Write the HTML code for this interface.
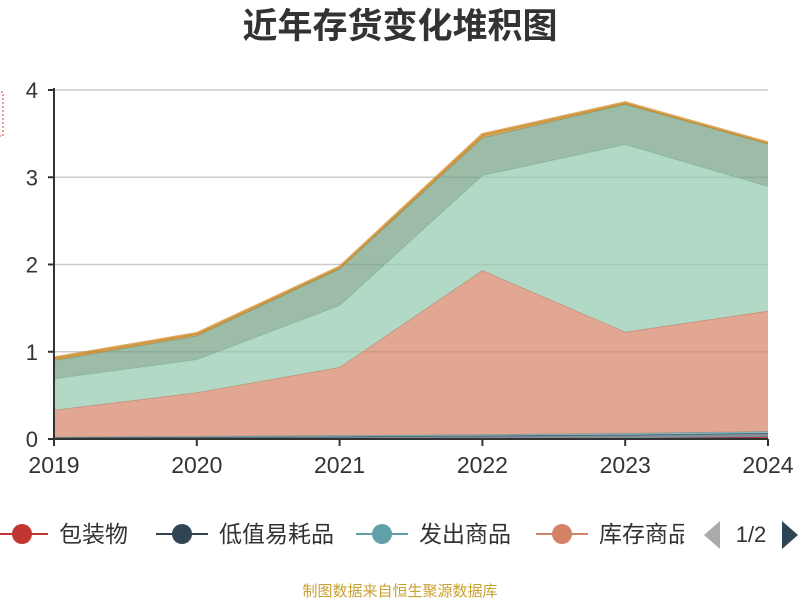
<!DOCTYPE html>
<html><head><meta charset="utf-8"><style>
body{margin:0;background:#fff;}
svg text{font-family:"Liberation Sans","Noto Sans CJK SC",sans-serif;}
</style></head><body>
<svg width="800" height="600" viewBox="0 0 800 600" id="chart">
<text x="400" y="38" text-anchor="middle" font-size="35" font-weight="bold" fill="#333">近年存货变化堆积图</text>
<rect x="-3" y="92" width="6" height="44" fill="none" stroke="#e33" stroke-dasharray="2,2"/>
<g id="grid"></g><g id="areas"></g><g id="axes"></g><g id="legend"></g>
<text x="400" y="596" text-anchor="middle" font-size="15" fill="#c9a232">制图数据来自恒生聚源数据库</text>
</svg>
<script>
const years=["2019","2020","2021","2022","2023","2024"];
const seriesNames=["包装物","低值易耗品","发出商品","库存商品","原材料","在产品","委托加工物资"];
const s0=[0,0,0,0,0.005,0.02];
const s1=[0.015,0.02,0.025,0.035,0.04,0.045];
const s2=[0.005,0.01,0.015,0.015,0.02,0.02];
const s3=[0.31,0.50,0.78,1.88,1.16,1.38];
const s4=[0.36,0.38,0.71,1.09,2.15,1.43];
const s5=[0.21,0.27,0.42,0.43,0.46,0.49];
const s6=[0.03,0.03,0.02,0.04,0.02,0.01];
const yTicks=[0,1,2,3,4];
const colors=["#c23531","#2f4554","#61a0a8","#d48265","#91c7ae","#749f83","#ca8622"];
const NS="http://www.w3.org/2000/svg";
const X=i=>54+i*(768-54)/(years.length-1);
const Y=v=>439-v*(439-90)/4;
function mk(t,a,p){const e=document.createElementNS(NS,t);for(const k in a)e.setAttribute(k,a[k]);p.appendChild(e);return e;}
const grid=document.getElementById('grid'),areas=document.getElementById('areas'),axes=document.getElementById('axes'),leg=document.getElementById('legend');
yTicks.forEach(v=>{
 const l=mk('line',{x1:54,x2:768,y1:Y(v),y2:Y(v),stroke:'#ccc','stroke-width':1.5},grid);
 
 
 const t=mk('text',{x:38,y:Y(v)+8,'text-anchor':'end','font-size':22,fill:'#333'},axes);t.textContent=v;
 
 
 mk('line',{x1:48,x2:54,y1:Y(v),y2:Y(v),stroke:'#333','stroke-width':2},axes);
});
const all=[s0,s1,s2,s3,s4,s5,s6];
let base=years.map(()=>0);
all.forEach((s,k)=>{
 const top=base.map((b,i)=>b+s[i]);
 let d='M'+top.map((v,i)=>X(i)+','+Y(v)).join('L');
 for(let i=years.length-1;i>=0;i--)d+='L'+X(i)+','+Y(base[i]);
 const p=mk('path',{d:d+'Z',fill:colors[k],'fill-opacity':k==1?0.6:0.7},areas);
 
 
 const ln=mk('polyline',{points:top.map((v,i)=>X(i)+','+Y(v)).join(' '),fill:'none',stroke:colors[k],'stroke-width':k==6?3:0.8,'stroke-opacity':k==6?0.7:1},areas);
 
 
 base=top;
});
mk('line',{x1:54,x2:54,y1:88,y2:440,stroke:'#333','stroke-width':2},axes);
mk('line',{x1:54,x2:768,y1:439,y2:439,stroke:'#333','stroke-width':2},axes);
years.forEach((y,i)=>{
 mk('line',{x1:X(i),x2:X(i),y1:439,y2:446,stroke:'#333','stroke-width':2},axes);
 const t=mk('text',{x:X(i),y:473,'text-anchor':'middle','font-size':23,fill:'#333'},axes);t.textContent=y;
 
 
});
const lx=[-4,156,356,536];
for(let k=0;k<4;k++){
 const g=mk('g',{},leg);
 
 
 mk('line',{x1:lx[k],x2:lx[k]+52,y1:534,y2:534,stroke:colors[k],'stroke-width':2},g);
 mk('circle',{cx:lx[k]+26,cy:534,r:10,fill:colors[k]},g);
 const t=mk('text',{x:lx[k]+63,y:542,'font-size':23,fill:'#333'},g);t.textContent=seriesNames[k];
}
mk('rect',{x:684,y:515,width:20,height:40,fill:'#fff'},leg);
const pa=mk('path',{d:'M720,521L720,549L704,535Z',fill:'#aaa'},leg);


const pt=mk('text',{x:751,y:542,'text-anchor':'middle','font-size':22,fill:'#333'},leg);pt.textContent='1/2';


const pn=mk('path',{d:'M782,521L782,549L798,535Z',fill:'#2f4554'},leg);


</script>
</body></html>
